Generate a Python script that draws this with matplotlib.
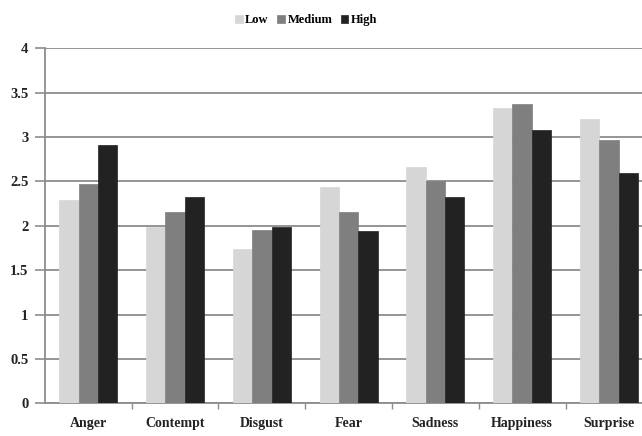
import numpy as np
import matplotlib
matplotlib.use('Agg')
import matplotlib.pyplot as plt

categories = ['Anger', 'Contempt', 'Disgust', 'Fear', 'Sadness', 'Happiness', 'Surprise']
low = [2.29, 1.99, 1.74, 2.44, 2.66, 3.33, 3.20]
medium = [2.47, 2.16, 1.95, 2.16, 2.50, 3.37, 2.97]
high = [2.91, 2.33, 1.99, 1.94, 2.33, 3.08, 2.60]
series_names = ['Low', 'Medium', 'High']
colors = ['#d6d6d6', '#7f7f7f', '#222222']

plt.rcParams['font.family'] = ['Liberation Serif', 'DejaVu Serif']

fig = plt.figure(figsize=(6.42, 4.36), dpi=100)
ax = fig.add_axes([0.070, 0.075, 0.946, 0.814])

x = np.arange(len(categories))
w = 0.223
for i, (vals, name, c) in enumerate(zip([low, medium, high], series_names, colors)):
    ax.bar(x + (i - 1) * w, vals, width=w, color=c, edgecolor=c, linewidth=0.5,
           label=name, zorder=3)

ax.set_xlim(-0.5, len(categories) - 0.5)
ax.set_ylim(0, 4)
ax.set_yticks(np.arange(0, 4.01, 0.5))
ax.set_yticklabels(['0', '0.5', '1', '1.5', '2', '2.5', '3', '3.5', '4'],
                   fontsize=10.5, fontweight='bold', color='#222222')
ax.yaxis.grid(True, color='#8c8c8c', linewidth=1.3, zorder=0)
ax.set_axisbelow(True)

# category labels between boundary ticks
ax.set_xticks(x)
ax.set_xticklabels(categories, fontsize=10, fontweight='bold', color='#222222')
ax.tick_params(axis='x', length=0, pad=10)
ax.set_xticks(np.arange(0.5, len(categories) - 0.5, 1), minor=True)
ax.tick_params(axis='x', which='minor', length=4, color='#8c8c8c', width=1)
ax.tick_params(axis='y', length=7, color='#8c8c8c', width=1.2, pad=5)

for s in ['top', 'right']:
    ax.spines[s].set_visible(False)
for s in ['left', 'bottom']:
    ax.spines[s].set_color('#8c8c8c')
    ax.spines[s].set_linewidth(1.3)

fig.legend(loc='center', bbox_to_anchor=(0.477, 0.953), ncol=3, frameon=False,
           handlelength=0.6, handleheight=0.6, handletextpad=0.2,
           columnspacing=0.7, prop={'weight': 'bold', 'size': 9})

fig.savefig('out.png', dpi=100)
